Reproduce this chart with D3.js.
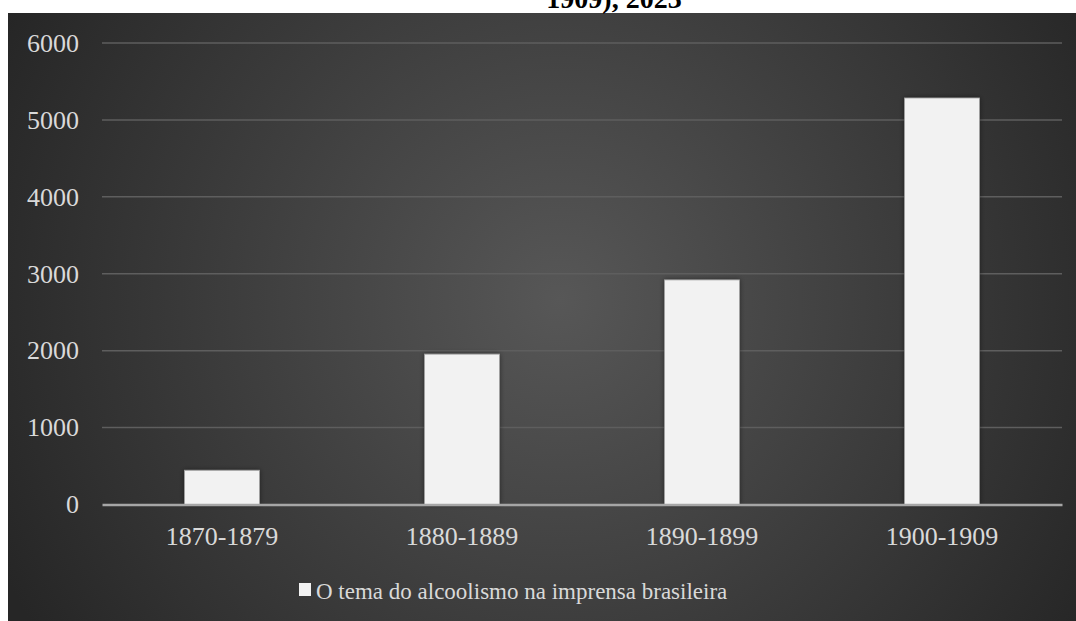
<!DOCTYPE html>
<html>
<head>
<meta charset="utf-8">
<script src="https://cdn.jsdelivr.net/npm/d3@7"></script>
<style>
  body { margin: 0; background: #fff; }
  svg { display: block; }
</style>
</head>
<body>
<div class="chart"></div>
<script>
const WIDTH = 1076, HEIGHT = 621;
const FONT = "'Liberation Serif', 'Times New Roman', serif";

const categories = ["1870-1879", "1880-1889", "1890-1899", "1900-1909"];
const values = [445, 1955, 2920, 5285];
const yTicks = [0, 1000, 2000, 3000, 4000, 5000, 6000];
const seriesName = "O tema do alcoolismo na imprensa brasileira";
const titleTail = "1909), 2023";

const plot = { left: 102, right: 1062, top: 43, bottom: 504.5 };

const svg = d3.select(".chart")
  .append("svg")
  .attr("width", WIDTH)
  .attr("height", HEIGHT);

const defs = svg.append("defs");
const grad = defs.append("radialGradient")
  .attr("id", "bg")
  .attr("gradientUnits", "userSpaceOnUse")
  .attr("cx", 560).attr("cy", 300).attr("r", 620);
grad.append("stop").attr("offset", "0%").attr("stop-color", "#575757");
grad.append("stop").attr("offset", "100%").attr("stop-color", "#262626");

const shadow = defs.append("filter").attr("id", "shadow")
  .attr("x", "-20%").attr("y", "-20%").attr("width", "140%").attr("height", "140%");
shadow.append("feDropShadow")
  .attr("dx", 0).attr("dy", 0).attr("stdDeviation", 2.5)
  .attr("flood-color", "#000").attr("flood-opacity", 0.45);

// chart background
svg.append("rect")
  .attr("x", 8).attr("y", 13)
  .attr("width", WIDTH - 8).attr("height", HEIGHT - 13)
  .attr("fill", "url(#bg)");

// title, cut off at the top as in the source image
svg.append("text")
  .attr("x", 614).attr("y", 8)
  .attr("text-anchor", "middle")
  .style("font-family", FONT)
  .style("font-size", "28px")
  .style("font-weight", "bold")
  .attr("fill", "#000")
  .text(titleTail);

const x = d3.scaleBand()
  .domain(categories)
  .range([plot.left, plot.right])
  .paddingInner(0.6875)
  .paddingOuter(0.34375);

const y = d3.scaleLinear()
  .domain([0, 6000])
  .range([plot.bottom, plot.top]);

// gridlines
svg.append("g")
  .selectAll("line")
  .data(yTicks.filter(d => d > 0))
  .join("line")
  .attr("x1", plot.left).attr("x2", plot.right)
  .attr("y1", d => y(d)).attr("y2", d => y(d))
  .attr("stroke", "#5e5e5e")
  .attr("stroke-width", 1.5);

// y axis labels
const yAxis = svg.append("g")
  .attr("transform", `translate(${plot.left},0)`)
  .call(d3.axisLeft(y).tickValues(yTicks).tickFormat(d3.format("d")).tickSize(0).tickPadding(23));
yAxis.select(".domain").remove();
yAxis.selectAll("text")
  .style("font-family", FONT)
  .style("font-size", "26px")
  .attr("fill", "#d9d9d9");

// bars
svg.append("g")
  .selectAll("rect")
  .data(values)
  .join("rect")
  .attr("x", (d, i) => x(categories[i]))
  .attr("y", d => y(d))
  .attr("width", x.bandwidth())
  .attr("height", d => y(0) - y(d))
  .attr("fill", "#f2f2f2")
  .attr("stroke", "#a0a0a0")
  .attr("stroke-width", 0.8)
  .attr("filter", "url(#shadow)");

// x axis
const xAxis = svg.append("g")
  .attr("transform", `translate(0,${plot.bottom})`)
  .call(d3.axisBottom(x).tickSize(0).tickPadding(22));
xAxis.select(".domain")
  .attr("stroke", "#a6a6a6")
  .attr("stroke-width", 2.5);
xAxis.selectAll("text")
  .style("font-family", FONT)
  .style("font-size", "26px")
  .attr("fill", "#d9d9d9");

// legend
const legend = svg.append("g").attr("transform", "translate(299,583)");
legend.append("rect")
  .attr("x", 0).attr("y", 0)
  .attr("width", 12).attr("height", 13)
  .attr("fill", "#f2f2f2");
legend.append("text")
  .attr("x", 17).attr("y", 16)
  .style("font-family", FONT)
  .style("font-size", "23px")
  .attr("fill", "#d9d9d9")
  .text(seriesName);
</script>
</body>
</html>
